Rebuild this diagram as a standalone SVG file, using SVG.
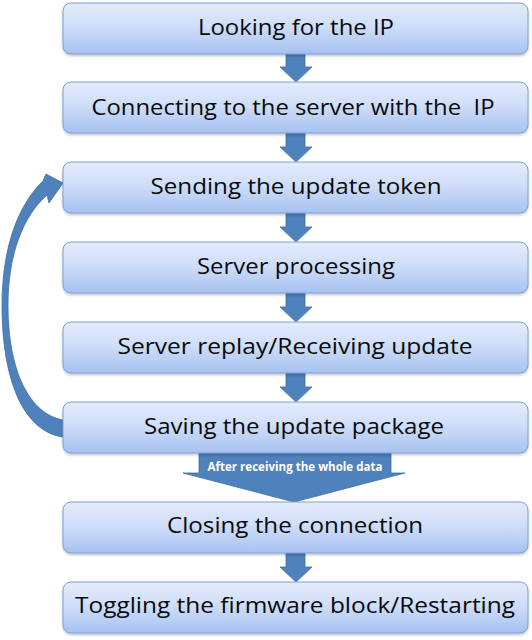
<svg xmlns="http://www.w3.org/2000/svg" width="532" height="640" viewBox="0 0 532 640">
  <defs>
    <linearGradient id="boxGrad" x1="0" y1="0" x2="0" y2="1">
      <stop offset="0" stop-color="#e4ecfb"/>
      <stop offset="0.45" stop-color="#cfdef9"/>
      <stop offset="1" stop-color="#a6c2f1"/>
    </linearGradient>
    <filter id="shadow" x="-5%" y="-10%" width="110%" height="130%">
      <feDropShadow dx="0" dy="1.5" stdDeviation="1.2" flood-color="#000" flood-opacity="0.25"/>
    </filter>
  </defs>
  <style>
    .box { fill: url(#boxGrad); stroke: #7f9fd4; stroke-width: 1; filter: url(#shadow); }
    .label { font-family: "Open Sans", "Liberation Sans", sans-serif; font-size: 22.5px; fill: #0a0a0a; text-anchor: middle; }
    .arrow { fill: #4f81bd; stroke: #40709f; stroke-width: 0.8; }
    .note { font-family: "Open Sans", "Liberation Sans", sans-serif; font-size: 11.5px; font-weight: bold; fill: #ffffff; text-anchor: middle; }
  </style>
  <rect width="532" height="640" fill="#ffffff"/>

  <g id="connectors">
    <polygon class="arrow" points="286,54 305,54 305,67 312,67 296,82 280,67 286,67"/>
    <polygon class="arrow" points="286,133 305,133 305,147 312,147 296,162 280,147 286,147"/>
    <polygon class="arrow" points="286,213 305,213 305,227 312,227 296,242 280,227 286,227"/>
    <polygon class="arrow" points="286,293 305,293 305,307 312,307 296,322 280,307 286,307"/>
    <polygon class="arrow" points="286,373 305,373 305,387 312,387 296,402 280,387 286,387"/>
    <polygon class="arrow" points="286,553 305,553 305,567 312,567 296,582 280,567 286,567"/>
    <g id="loop-arrow">
      <path class="arrow" d="M63,437 C26,432 2,385 2,305 C2,248 18,205 43,181 L46,174 L63,183 L49,203 L47,195 C23,216 8,255 8,305 C8,372 30,414 63,420 Z"/>
    </g>
    <g id="data-arrow">
      <polygon class="arrow" points="199,453 391,453 391,473 405,473 294,502 183,473 199,473"/>
      <text class="note" x="295" y="471" textLength="175" lengthAdjust="spacingAndGlyphs">After receiving the whole data</text>
    </g>
  </g>

  <g id="node-1">
    <rect class="box" x="63" y="3" width="465" height="51" rx="8"/>
    <text class="label" x="296" y="35" textLength="196" lengthAdjust="spacingAndGlyphs">Looking for the IP</text>
  </g>
  <g id="node-2">
    <rect class="box" x="63" y="82" width="465" height="51" rx="8"/>
    <text class="label" x="293" y="115" xml:space="preserve" textLength="403" lengthAdjust="spacingAndGlyphs">Connecting to the server with the  IP</text>
  </g>
  <g id="node-3">
    <rect class="box" x="63" y="162" width="465" height="51" rx="8"/>
    <text class="label" x="296" y="194" textLength="291" lengthAdjust="spacingAndGlyphs">Sending the update token</text>
  </g>
  <g id="node-4">
    <rect class="box" x="63" y="242" width="465" height="51" rx="8"/>
    <text class="label" x="296" y="274" textLength="198" lengthAdjust="spacingAndGlyphs">Server processing</text>
  </g>
  <g id="node-5">
    <rect class="box" x="63" y="322" width="465" height="51" rx="8"/>
    <text class="label" x="295" y="354" textLength="355" lengthAdjust="spacingAndGlyphs">Server replay/Receiving update</text>
  </g>
  <g id="node-6">
    <rect class="box" x="63" y="402" width="465" height="51" rx="8"/>
    <text class="label" x="294" y="434" textLength="300" lengthAdjust="spacingAndGlyphs">Saving the update package</text>
  </g>
  <g id="node-7">
    <rect class="box" x="63" y="502" width="465" height="51" rx="8"/>
    <text class="label" x="295" y="533" textLength="256" lengthAdjust="spacingAndGlyphs">Closing the connection</text>
  </g>
  <g id="node-8">
    <rect class="box" x="63" y="582" width="465" height="51" rx="8"/>
    <text class="label" x="295" y="613" textLength="440" lengthAdjust="spacingAndGlyphs">Toggling the firmware block/Restarting</text>
  </g>
</svg>
